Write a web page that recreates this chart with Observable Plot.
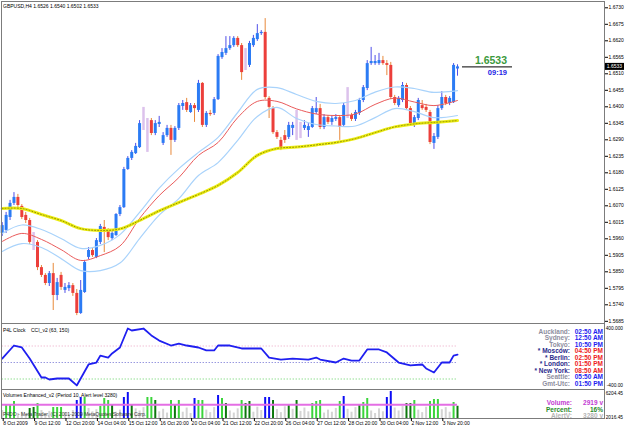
<!DOCTYPE html>
<html>
<head>
<meta charset="utf-8">
<script src="https://cdn.jsdelivr.net/npm/d3@7"></script>
<script src="https://cdn.jsdelivr.net/npm/@observablehq/plot@0.6"></script>
<style>
html,body{margin:0;padding:0;background:#fff;}
#chart{position:relative;width:625px;height:429px;overflow:hidden;background:#fff;}
#chart > svg{position:absolute;left:0;}
</style>
</head>
<body>
<div id="chart"></div>
<script>
// ---------------- DATA ----------------
const symbol = "GBPUSD,H4";
const opens = [1.5978,1.5988,1.6031,1.6078,1.6098,1.6068,1.6038,1.6021,1.5950,1.5948,
1.5864,1.5838,1.5811,1.5844,1.5771,1.5838,1.5788,1.5794,1.5804,1.5778,
1.5711,1.5781,1.5898,1.5921,1.5898,1.5948,1.5998,1.5988,1.5961,1.5971,
1.6041,1.6064,1.6191,1.6228,1.6244,1.6264,1.6351,1.6354,1.6354,1.6311,
1.6341,1.6278,1.6304,1.6328,1.6288,1.6328,1.6401,1.6414,1.6381,1.6404,
1.6388,1.6478,1.6338,1.6378,1.6378,1.6424,1.6564,1.6578,1.6594,1.6604,
1.6628,1.6604,1.6558,1.6538,1.6604,1.6624,1.6644,1.6648,1.6428,1.6394,
1.6314,1.6288,1.6304,1.6298,1.6328,1.6331,1.6328,1.6328,1.6321,1.6331,
1.6381,1.6394,1.6331,1.6364,1.6348,1.6358,1.6364,1.6338,1.6388,1.6371,
1.6358,1.6378,1.6421,1.6461,1.6544,1.6544,1.6544,1.6554,1.6544,1.6538,
1.6431,1.6404,1.6421,1.6471,1.6394,1.6338,1.6361,1.6404,1.6398,1.6381,
1.6278,1.6298,1.6394,1.6431,1.6411,1.6414,1.6526];
const highs = [1.6014,1.6048,1.6088,1.6114,1.6108,1.6074,1.6048,1.6028,1.5981,1.5954,
1.5871,1.5844,1.5851,1.5878,1.5828,1.5848,1.5811,1.5814,1.5811,1.5791,
1.5821,1.5888,1.5931,1.5928,1.5961,1.6008,1.6021,1.5994,1.5984,1.6044,
1.6071,1.6198,1.6234,1.6254,1.6278,1.6354,1.6398,1.6361,1.6361,1.6354,
1.6368,1.6314,1.6338,1.6338,1.6334,1.6411,1.6421,1.6428,1.6411,1.6411,
1.6488,1.6481,1.6384,1.6388,1.6431,1.6574,1.6594,1.6634,1.6634,1.6634,
1.6634,1.6611,1.6594,1.6618,1.6638,1.6674,1.6654,1.6694,1.6434,1.6401,
1.6321,1.6298,1.6321,1.6348,1.6348,1.6388,1.6348,1.6354,1.6344,1.6401,
1.6431,1.6408,1.6374,1.6371,1.6368,1.6374,1.6371,1.6411,1.6464,1.6378,
1.6388,1.6428,1.6471,1.6554,1.6598,1.6571,1.6578,1.6568,1.6554,1.6548,
1.6438,1.6434,1.6481,1.6478,1.6401,1.6371,1.6428,1.6421,1.6408,1.6388,
1.6311,1.6404,1.6451,1.6438,1.6434,1.6544,1.6540];
const lows = [1.5968,1.5978,1.6021,1.6071,1.6064,1.6024,1.6011,1.5941,1.5921,1.5854,
1.5831,1.5804,1.5801,1.5721,1.5754,1.5788,1.5778,1.5784,1.5768,1.5704,
1.5708,1.5778,1.5891,1.5898,1.5894,1.5941,1.5914,1.5954,1.5954,1.5968,
1.6034,1.6061,1.6188,1.6221,1.6241,1.6261,1.6321,1.6248,1.6304,1.6304,
1.6331,1.6271,1.6298,1.6238,1.6281,1.6321,1.6388,1.6381,1.6378,1.6348,
1.6381,1.6331,1.6331,1.6368,1.6371,1.6421,1.6558,1.6571,1.6588,1.6598,
1.6598,1.6488,1.6521,1.6531,1.6598,1.6618,1.6638,1.6424,1.6361,1.6308,
1.6291,1.6254,1.6278,1.6291,1.6304,1.6288,1.6294,1.6321,1.6298,1.6328,
1.6374,1.6324,1.6324,1.6341,1.6338,1.6351,1.6288,1.6331,1.6361,1.6351,
1.6351,1.6371,1.6414,1.6454,1.6538,1.6538,1.6538,1.6538,1.6504,1.6424,
1.6404,1.6398,1.6414,1.6388,1.6338,1.6331,1.6354,1.6388,1.6381,1.6274,
1.6258,1.6291,1.6388,1.6404,1.6404,1.6411,1.6502];
const closes = [1.6004,1.6038,1.6078,1.6098,1.6071,1.6031,1.6021,1.5948,1.5950,1.5864,
1.5838,1.5811,1.5844,1.5771,1.5814,1.5798,1.5798,1.5804,1.5778,1.5711,
1.5788,1.5881,1.5921,1.5904,1.5954,1.6001,1.5981,1.5964,1.5978,1.6041,
1.6064,1.6191,1.6228,1.6248,1.6268,1.6344,1.6351,1.6354,1.6311,1.6344,
1.6348,1.6304,1.6328,1.6288,1.6328,1.6404,1.6411,1.6388,1.6404,1.6394,
1.6478,1.6338,1.6378,1.6374,1.6424,1.6568,1.6581,1.6594,1.6604,1.6628,
1.6604,1.6514,1.6558,1.6611,1.6628,1.6644,1.6648,1.6431,1.6398,1.6314,
1.6298,1.6264,1.6288,1.6338,1.6338,1.6331,1.6328,1.6338,1.6334,1.6394,
1.6394,1.6331,1.6364,1.6348,1.6361,1.6364,1.6331,1.6404,1.6388,1.6358,
1.6381,1.6421,1.6464,1.6544,1.6551,1.6551,1.6554,1.6544,1.6538,1.6431,
1.6411,1.6428,1.6471,1.6394,1.6344,1.6364,1.6421,1.6394,1.6388,1.6281,
1.6301,1.6394,1.6431,1.6411,1.6428,1.6538,1.6533];

// moving averages (bar index -> price)
const maIdx = [0,5,10,15,20,25,30,35,40,45,50,55,60,65,70,75,80,85,90,95,100,105,110,116];
const maYellow = [1.6061,1.6061,1.6041,1.6021,1.5994,1.5988,1.5993,1.6021,1.6053,1.6081,1.6108,1.6138,1.6181,1.6238,1.6261,1.6266,1.6273,1.6281,1.6294,1.6314,1.6333,1.6343,1.6348,1.6354];
const maRed = [1.5951,1.5978,1.5958,1.5924,1.5888,1.5904,1.5936,1.6028,1.6104,1.6164,1.6238,1.6281,1.6364,1.6418,1.6418,1.6393,1.6376,1.6371,1.6376,1.6408,1.6429,1.6416,1.6404,1.6421];
const bandUpper = [1.5978,1.6006,1.5991,1.5961,1.5928,1.5938,1.5974,1.6048,1.6129,1.6194,1.6248,1.6298,1.6381,1.6458,1.6464,1.6441,1.6418,1.6411,1.6421,1.6449,1.6466,1.6461,1.6448,1.6454];
const bandLower = [1.5918,1.5944,1.5931,1.5894,1.5854,1.5854,1.5879,1.5961,1.6039,1.6094,1.6171,1.6214,1.6288,1.6368,1.6398,1.6361,1.6341,1.6336,1.6336,1.6364,1.6394,1.6384,1.6364,1.6371];

const priceTicks = [1.5685,1.5740,1.5795,1.5850,1.5905,1.5960,1.6015,1.6070,1.6125,1.6180,1.6235,1.6290,1.6345,1.6400,1.6455,1.6510,1.6565,1.6620,1.6675,1.6730];

// CCI (bar index -> value)
const cciIdx = [0,3,5,7,10,11,12,14,17,19,22,24,25,27,28,30,32,33,36,38,40,43,45,47,50,52,54,55,58,61,62,66,68,71,74,78,80,81,85,87,89,91,93,96,98,101,104,107,108,110,112,114,115,116];
const cciVal = [24,103,91,24,-91,-91,-103,-97,-97,-139,-12,0,42,30,55,91,206,194,206,164,133,103,115,103,91,73,73,103,103,85,85,85,30,18,24,18,30,18,0,24,12,12,79,79,61,0,-18,-12,-36,-61,0,0,42,48];
const cciLevels = [100, 0, -100];
const cciLabel = "P4L Clock";
const cciName = "CCI_v2 (63, 150)";
const cciAxis = ["400.000", "-400.00"];

// Volumes
const volumes = [1900,3100,3340,4060,1200,1500,1000,2390,2620,3580,
1900,1200,1700,2620,2620,2620,1400,900,1900,4300,
5010,5010,2400,1600,2100,2860,4770,4300,3100,1500,
2000,5010,6200,3100,2300,1800,2600,5010,5010,4300,
1600,2200,1300,4300,3340,4300,1500,2500,1200,4770,
4300,4300,2000,1400,2600,5490,4770,3580,1800,1300,
2300,4300,3580,4060,1500,2700,1900,5010,5010,4300,
2100,1400,2800,3340,2200,4300,1700,2500,1600,3580,
4060,4300,1300,2000,1500,2400,4060,5250,2200,1500,
2600,3340,3820,4770,1800,1200,2300,1600,5010,6440,
2500,1800,2900,3580,3580,4300,2000,1400,2700,4060,
4530,4530,2100,2600,1500,3820,2919];
const volClass = ["g","lg","lg","lg","g","g","g","dg","dg","lg",
"g","g","g","lg","lg","lg","g","g","g","b",
"b","lg","g","g","g","lg","lg","lg","dg","g",
"g","b","b","dg","g","g","g","lg","lg","dg",
"g","g","g","lg","dg","lg","g","g","g","b",
"lg","lg","g","g","g","b","lg","dg","g","g",
"g","lg","dg","dg","g","g","g","b","b","dg",
"g","g","g","dg","g","dg","g","g","g","lg",
"lg","lg","g","g","g","g","lg","b","g","g",
"g","dg","lg","lg","g","g","g","g","b","b",
"g","g","g","dg","dg","lg","g","g","g","lg",
"lg","lg","g","g","g","lg","dg"];
const alertLevel = 3280;
const volMax = 6204.45;
const volTitle = "Volumes Enhanced_v2 (Period 10, Alert level 3280)";
const copyright = "P4DO - Meta Trader, (C) 2001-2009 MetaQuotes Software Corp.";
const volInfoNames = ["Volume:", "Percent:", "AlertV:"];
const volInfoValues = ["2919 v", "16%", "3280 v"];
const volAxis = ["6204.45", "2016.45"];

// Clock
const clockNames = ["Auckland:","Sydney:","Tokyo:","* Moscow:","* Berlin:","* London:","* New York:","Seattle:","Gmt-Utc:"];
const clockTimes = ["02:50 AM","12:50 AM","10:50 PM","04:50 PM","02:50 PM","01:50 PM","08:50 AM","05:50 AM","01:50 PM"];
const clockStarred = [false,false,false,true,true,true,true,false,false];
const barTimer = "09:19";

// X axis
const xLabelIdx = [0,8,16,24,32,40,48,56,64,72,80,88,96,104,112];
const xLabels = ["8 Oct 2009","9 Oct 12:00","12 Oct 20:00","14 Oct 04:00","15 Oct 12:00","16 Oct 20:00","20 Oct 04:00","21 Oct 12:00","22 Oct 20:00","26 Oct 04:00","27 Oct 12:00","28 Oct 20:00","30 Oct 04:00","2 Nov 12:00","3 Nov 20:00"];

// ---------------- DRAW ----------------
const FONT = "'Liberation Sans', Arial, sans-serif";
const N = closes.length;
const xDomain = [-0.178, 153.45];
const fmt4 = d3.format(".4f");
const bars = opens.map((o, i) => ({i, o, h: highs[i], l: lows[i], c: closes[i]}));
const isDoji = d => Math.abs(d.c - d.o) < 0.0002;
const upBars = bars.filter(d => !isDoji(d) && d.c > d.o);
const downBars = bars.filter(d => !isDoji(d) && d.c < d.o);
const dojiBars = bars.filter(isDoji);
const ma = maIdx.map((x, k) => ({x, yel: maYellow[k], red: maRed[k], hi: bandUpper[k], lo: bandLower[k]}));
const baseStyle = {fontFamily: FONT, fontSize: "5px", background: "transparent", overflow: "visible", color: "#000"};
const frameColor = "#7c7c7c";

const main = Plot.plot({
  width: 625, height: 323, marginLeft: 1, marginRight: 21, marginTop: 1, marginBottom: 0,
  x: {domain: xDomain, axis: null},
  y: {domain: [1.56777, 1.67510], axis: null, label: null},
  style: baseStyle,
  marks: [
    Plot.ruleX(dojiBars, {x: "i", y1: "l", y2: "h", stroke: "#dcc2ec", strokeWidth: 2.5}),
    Plot.ruleX(upBars, {x: "i", y1: "l", y2: "h", stroke: "#4f4fe8", strokeWidth: 1}),
    Plot.ruleX(downBars, {x: "i", y1: "l", y2: "h", stroke: "#e8893a", strokeWidth: 1}),
    Plot.ruleX(upBars, {x: "i", y1: "o", y2: "c", stroke: "#2b7bf4", strokeWidth: 3}),
    Plot.ruleX(downBars, {x: "i", y1: "o", y2: "c", stroke: "#ec3f3b", strokeWidth: 3}),
    Plot.line(ma, {x: "x", y: "hi", curve: "catmull-rom", stroke: "#a9d3fb", strokeWidth: 1.2}),
    Plot.line(ma, {x: "x", y: "lo", curve: "catmull-rom", stroke: "#a9d3fb", strokeWidth: 1.2}),
    Plot.line(ma, {x: "x", y: "red", curve: "catmull-rom", stroke: "#ea5b5b", strokeWidth: 1}),
    Plot.line(ma, {x: "x", y: "yel", curve: "catmull-rom", stroke: "#eded14", strokeWidth: 3}),
    Plot.line(ma, {x: "x", y: "yel", curve: "catmull-rom", stroke: "#8f8f00", strokeWidth: 1, strokeDasharray: "1,2"}),
    Plot.frame({stroke: frameColor}),
    Plot.axisY(priceTicks, {anchor: "right", tickSize: 3, tickPadding: 1, tickFormat: fmt4, fontSize: 5, label: null})
  ]
});

const cciData = cciIdx.map((x, k) => ({x, v: cciVal[k]}));
const lvl = v => [{v, a: 0, b: N - 1}];
const cciPlot = Plot.plot({
  width: 625, height: 66, marginLeft: 1, marginRight: 21, marginTop: 0, marginBottom: 0,
  x: {domain: xDomain, axis: null},
  y: {domain: [-163.6, 236.4], axis: null, label: null},
  style: baseStyle,
  marks: [
    Plot.ruleY(lvl(cciLevels[0]), {y: "v", x1: "a", x2: "b", stroke: "#e9a3c2", strokeDasharray: "1,2"}),
    Plot.ruleY(lvl(cciLevels[1]), {y: "v", x1: "a", x2: "b", stroke: "#6a6ad0", strokeDasharray: "1,2"}),
    Plot.ruleY(lvl(cciLevels[2]), {y: "v", x1: "a", x2: "b", stroke: "#5fcf5f", strokeDasharray: "1,2"}),
    Plot.line(cciData, {x: "x", y: "v", stroke: "#1f1ff0", strokeWidth: 1.8}),
    Plot.frame({stroke: frameColor})
  ]
});

const volColors = {g: "#d4d4d4", lg: "#3bd43b", dg: "#0c780c", b: "#0d0df5"};
const volData = volumes.map((v, i) => ({i, v, col: volColors[volClass[i]]}));
const labelOf = new Map(xLabelIdx.map((d, k) => [d, xLabels[k]]));
const volPlot = Plot.plot({
  width: 625, height: 40, marginLeft: 1, marginRight: 21, marginTop: 0, marginBottom: 11,
  x: {domain: xDomain, axis: null},
  y: {domain: [0, volMax * 29 / 26], axis: null, label: null},
  color: {type: "identity"},
  style: baseStyle,
  marks: [
    Plot.ruleX(volData, {x: "i", y1: () => 0, y2: "v", stroke: "col", strokeWidth: 2}),
    Plot.ruleY([{v: alertLevel, a: 0, b: N - 1}], {y: "v", x1: "a", x2: "b", stroke: "#e46ee4", strokeWidth: 2}),
    Plot.frame({stroke: frameColor}),
    Plot.axisX(xLabelIdx, {anchor: "bottom", tickSize: 3, tickPadding: 0, tickFormat: d => labelOf.get(d), textAnchor: "start", dx: 1, fontSize: 5, label: null})
  ]
});

const chart = document.getElementById("chart");
main.style.top = "0px"; chart.append(main);
cciPlot.style.top = "323px"; chart.append(cciPlot);
volPlot.style.top = "389px"; chart.append(volPlot);

// overlay texts
const xs = main.scale("x"), ys = main.scale("y");
const ov = d3.select(chart).append("svg")
  .attr("width", 625).attr("height", 429)
  .style("top", "0px").style("pointer-events", "none")
  .style("font-family", FONT);

function txt(x, y, s, opt = {}) {
  return ov.append("text").attr("x", x).attr("y", y).text(s)
    .attr("font-size", opt.size || 5)
    .attr("font-weight", opt.weight || "normal")
    .attr("fill", opt.fill || "#000")
    .attr("text-anchor", opt.anchor || "start");
}

// header
txt(3, 7.5, `${symbol}  ${fmt4(opens[N-1])} ${fmt4(highs[N-1])} ${fmt4(lows[N-1])} ${fmt4(closes[N-1])}`);

// last price marker
const lastX = xs.apply(N - 1), lastY = ys.apply(closes[N - 1]);
ov.append("line").attr("x1", lastX + 5).attr("x2", lastX + 55).attr("y1", lastY + 0.5).attr("y2", lastY + 0.5)
  .attr("stroke", "#000").attr("stroke-width", 1);
txt(lastX + 50, lastY - 2, fmt4(closes[N - 1]), {size: 10.5, weight: "bold", fill: "#3c9a3c", anchor: "end"});
txt(lastX + 50, lastY + 8.5, barTimer, {size: 7.5, weight: "bold", fill: "#2424e6", anchor: "end"});
ov.append("rect").attr("x", 605).attr("y", lastY - 3.5).attr("width", 19).attr("height", 7).attr("fill", "#000");
txt(614.5, lastY + 2, fmt4(closes[N - 1]), {fill: "#fff", anchor: "middle"});

// CCI panel texts
txt(3, 332, cciLabel);
txt(31, 332, cciName);
txt(623, 330, cciAxis[0], {size: 4.8, anchor: "end"});
txt(623, 387, cciAxis[1], {size: 4.8, anchor: "end"});
clockNames.forEach((n, k) => {
  const y = 333.5 + k * 6.5;
  txt(570, y, n, {size: 6.5, weight: "bold", fill: clockStarred[k] ? "#2b2b8c" : "#8e8e9e", anchor: "end"});
  txt(603, y, clockTimes[k], {size: 6.5, weight: "bold", fill: clockStarred[k] ? "#ee2222" : "#1e1ef0", anchor: "end"});
});

// Volume panel texts
txt(3, 397, volTitle);
txt(3, 416, copyright, {fill: "#333"});
txt(623, 395, volAxis[0], {size: 4.8, anchor: "end"});
txt(623, 419, volAxis[1], {size: 4.8, anchor: "end"});
const infoColors = ["#c23cd2", "#2a8a2a", "#b4b4b4"];
volInfoNames.forEach((n, k) => {
  const y = 405 + k * 6.5;
  txt(572, y, n, {size: 6.5, weight: "bold", fill: infoColors[k], anchor: "end"});
  txt(603, y, volInfoValues[k], {size: 6.5, weight: "bold", fill: infoColors[k], anchor: "end"});
});
</script>
</body>
</html>
